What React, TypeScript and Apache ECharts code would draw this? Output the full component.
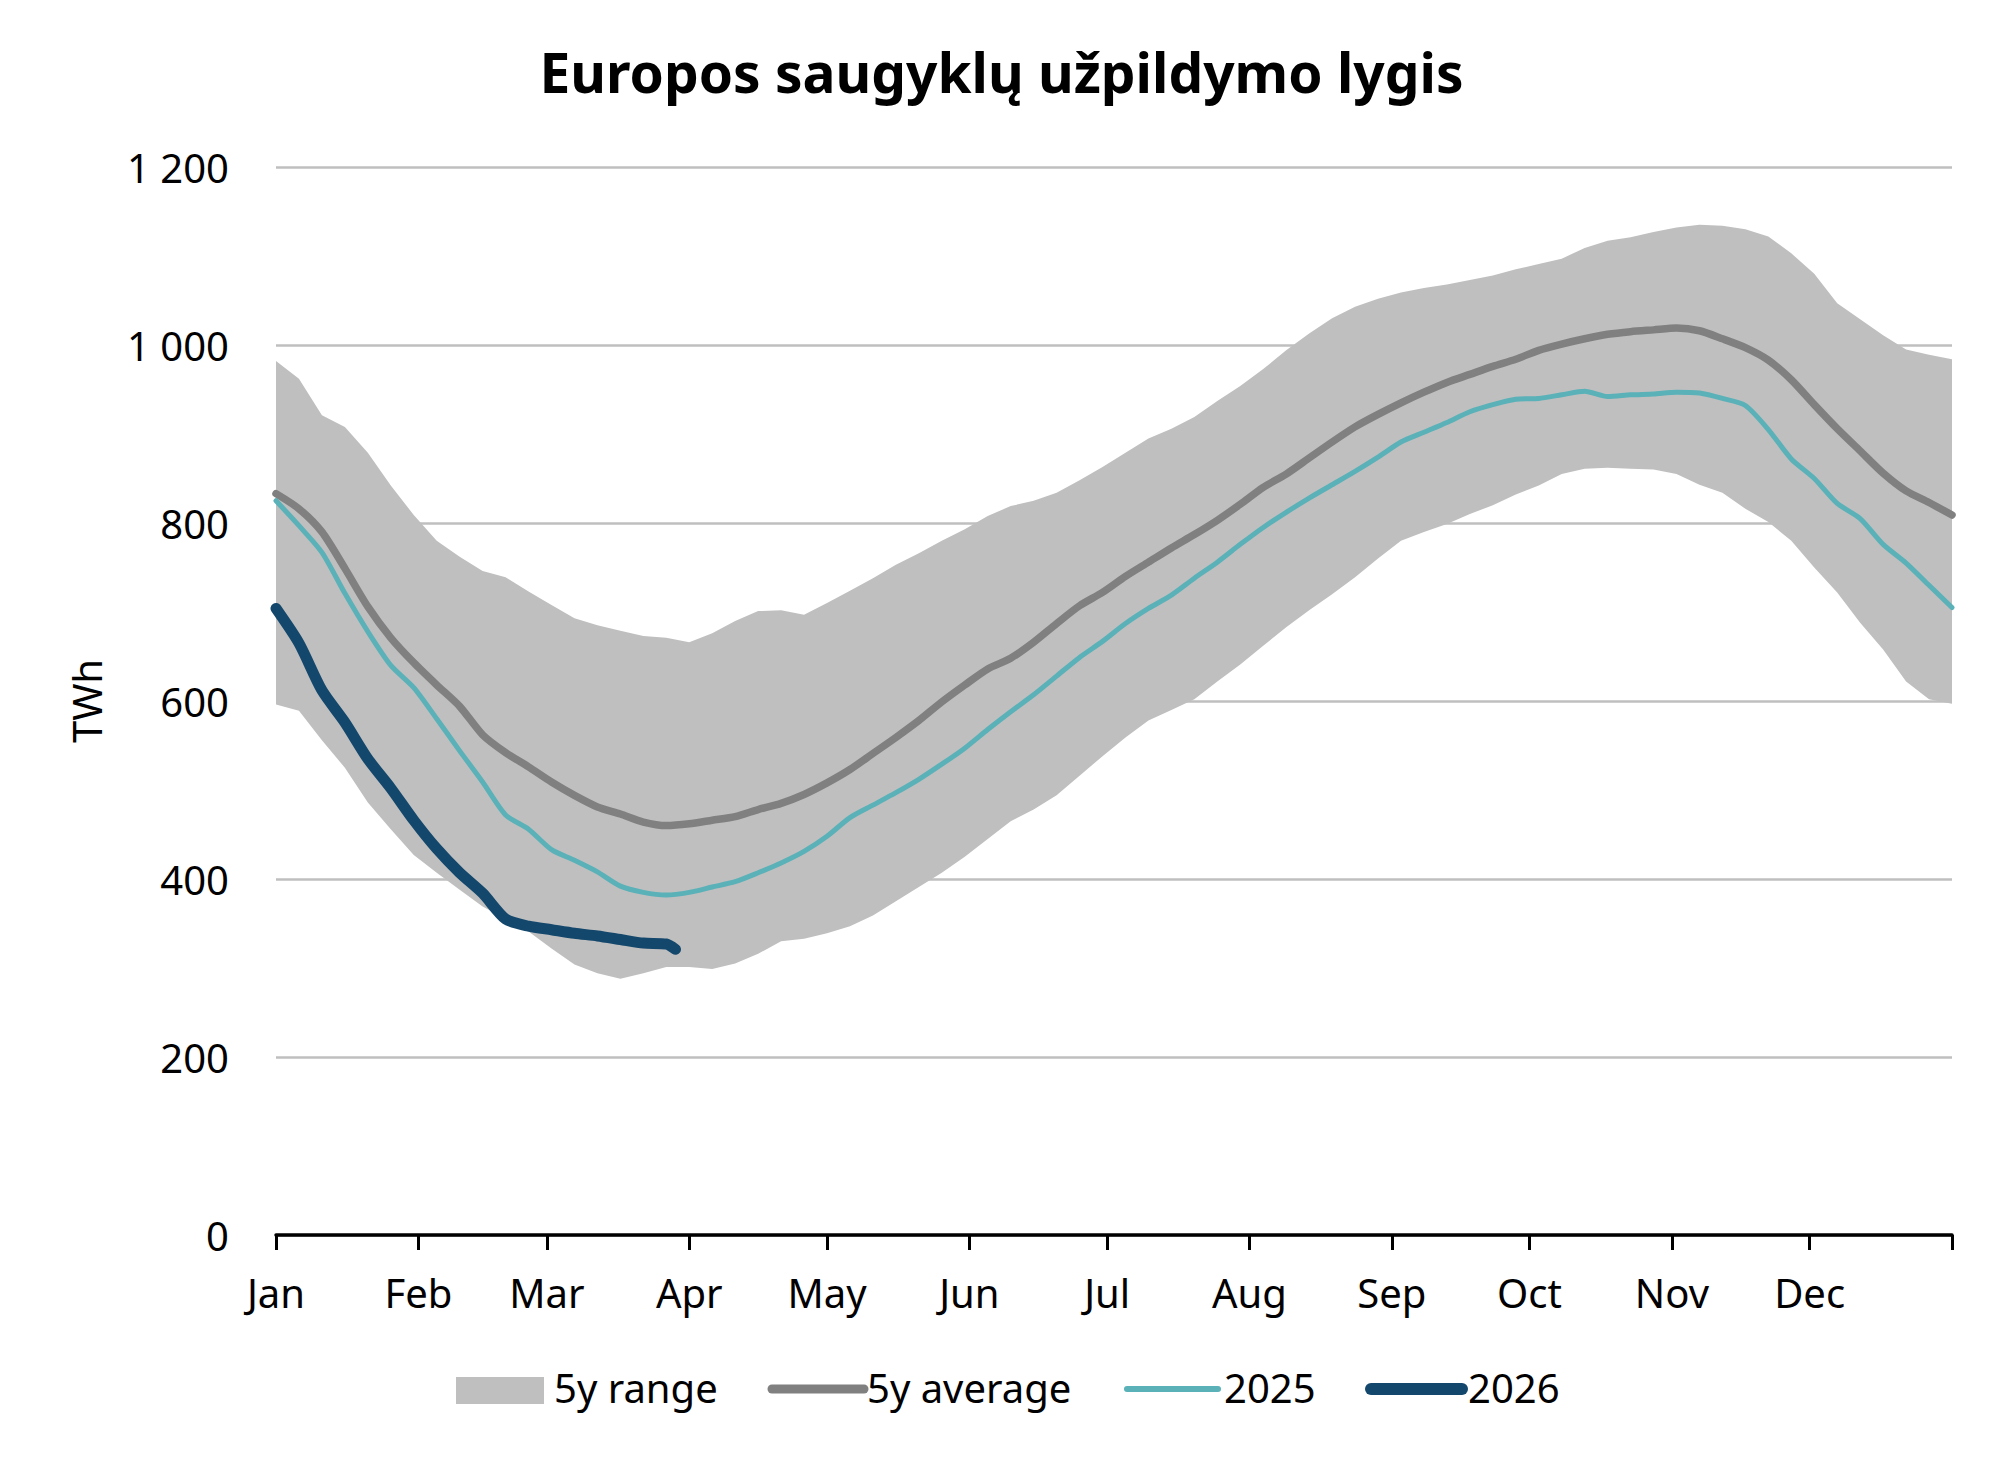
import React, { useEffect, useRef } from "react";
import * as echarts from "echarts";

const titleText = "Europos saugyklų užpildymo lygis";
const yAxisName = "TWh";
const monthLabels = ["Jan", "Feb", "Mar", "Apr", "May", "Jun", "Jul", "Aug", "Sep", "Oct", "Nov", "Dec"];
const monthStartDays = [0, 31, 59, 90, 120, 151, 181, 212, 243, 273, 304, 334];
const yearEndDay = 365;

const days = [
  0, 5, 10, 15, 20, 25, 30, 35, 40, 45, 50, 55, 60, 65, 70, 75, 80, 85, 90, 95,
  100, 105, 110, 115, 120, 125, 130, 135, 140, 145, 150, 155, 160, 165, 170, 175, 180, 185, 190, 195,
  200, 205, 210, 215, 220, 225, 230, 235, 240, 245, 250, 255, 260, 265, 270, 275, 280, 285, 290, 295,
  300, 305, 310, 315, 320, 325, 330, 335, 340, 345, 350, 355, 360, 365,
];

const rangeUpper = [
  982, 962, 921, 908, 879, 842, 809, 780, 762, 746, 739, 723, 708, 693, 685, 679, 673, 671, 666, 676,
  690, 701, 702, 697, 710, 724, 738, 753, 766, 780, 793, 808, 819, 825, 834, 848, 863, 879, 895, 906,
  919, 937, 954, 973, 994, 1013, 1030, 1043, 1052, 1059, 1064, 1068, 1073, 1078, 1085, 1091, 1097, 1109, 1117, 1121,
  1127, 1132, 1135, 1134, 1130, 1122, 1103, 1080, 1047, 1029, 1011, 995, 989, 984,
];

const rangeLower = [
  596, 589, 556, 525, 486, 456, 427, 407, 388, 369, 355, 341, 322, 304, 294, 288, 294, 301, 301, 299,
  305, 316, 330, 333, 339, 347, 359, 375, 391, 407, 425, 445, 465, 478, 494, 516, 538, 559, 578, 590,
  602, 622, 641, 662, 683, 702, 720, 739, 760, 780, 790, 799, 810, 820, 832, 842, 855, 861, 862, 861,
  860, 855, 843, 834, 816, 801, 780, 750, 722, 688, 658, 622, 602, 597,
];

const avg5y = [
  833, 816, 790, 749, 706, 671, 643, 618, 594, 562, 542, 526, 509, 494, 481, 473, 464, 460, 462, 466,
  470, 478, 485, 495, 508, 523, 541, 559, 578, 599, 618, 636, 648, 666, 687, 707, 722, 740, 756, 772,
  787, 803, 821, 840, 855, 873, 891, 908, 922, 935, 947, 958, 967, 976, 984, 994, 1001, 1007, 1012, 1015,
  1017, 1019, 1016, 1007, 997, 983, 961, 933, 906, 881, 856, 836, 823, 809,
];

const values2025 = [
  825, 797, 767, 721, 678, 640, 615, 580, 544, 509, 472, 456, 433, 421, 408, 392, 385, 382, 385, 391,
  397, 407, 418, 431, 448, 469, 483, 497, 512, 529, 547, 568, 588, 607, 628, 649, 667, 687, 704, 719,
  738, 756, 776, 795, 812, 828, 843, 858, 874, 891, 902, 913, 925, 933, 939, 940, 944, 948, 942, 944,
  945, 947, 946, 940, 932, 905, 872, 850, 822, 805, 776, 755, 730, 705,
];

const days2026 = [0, 5, 10, 15, 20, 25, 30, 35, 40, 45, 50, 55, 60, 65, 70, 75, 80, 85, 87];
const values2026 = [704, 665, 612, 576, 535, 502, 466, 434, 407, 384, 355, 347, 343, 339, 336, 332, 328, 327, 321];

const legendNames = ["5y range", "5y average", "2025", "2026"];

const COLOR_RANGE = "#BFBFBF";
const COLOR_AVG = "#808080";
const COLOR_2025 = "#5AB1B8";
const COLOR_2026 = "#14476C";
const FONT = "Noto Sans";

function fmtThousands(v: number): string {
  if (v >= 1000) {
    const th = Math.floor(v / 1000);
    const rest = String(v % 1000).padStart(3, "0");
    return th + " " + rest;
  }
  return String(v);
}

export default function App() {
  const ref = useRef<HTMLDivElement>(null);

  useEffect(() => {
    if (!ref.current) return;
    const chart = echarts.init(ref.current, null, { renderer: "svg" });

    const bandData = days.map((d, i) => [d, rangeLower[i], rangeUpper[i]]);
    const avgData = days.map((d, i) => [d, avg5y[i]]);
    const data2025 = days.map((d, i) => [d, values2025[i]]);
    const data2026 = days2026.map((d, i) => [d, values2026[i]]);

    const legendY = 1389;
    const legendText = (x: number, t: string) => ({
      type: "text",
      x,
      y: legendY - 2,
      style: {
        text: t,
        fontFamily: FONT,
        fontSize: 40,
        fill: "#000000",
        textVerticalAlign: "middle",
        textAlign: "left",
      },
    });

    chart.setOption({
      animation: false,
      backgroundColor: "#ffffff",
      title: {
        text: titleText,
        left: "center",
        top: 39,
        textStyle: {
          fontFamily: FONT,
          fontSize: 55,
          fontWeight: "bold",
          color: "#000000",
        },
      },
      grid: {
        left: 276,
        right: 51,
        top: 167,
        bottom: 227,
        containLabel: false,
        outerBoundsMode: "none",
      },
      xAxis: {
        type: "value",
        min: 0,
        max: yearEndDay,
        axisLine: { show: true, lineStyle: { color: "#000000", width: 3.5 } },
        axisTick: {
          show: true,
          length: 15,
          inside: false,
          lineStyle: { color: "#000000", width: 3 },
          customValues: [...monthStartDays, yearEndDay],
        },
        axisLabel: {
          show: true,
          customValues: monthStartDays,
          formatter: (v: number) => {
            const idx = monthStartDays.indexOf(Math.round(v));
            return idx >= 0 ? monthLabels[idx] : "";
          },
          margin: 37,
          fontFamily: FONT,
          fontSize: 40,
          color: "#000000",
        },
        splitLine: { show: false },
      },
      yAxis: {
        type: "value",
        min: 0,
        max: 1200,
        interval: 200,
        name: yAxisName,
        nameLocation: "middle",
        nameGap: 170,
        nameRotate: 90,
        nameTextStyle: { fontFamily: FONT, fontSize: 40, color: "#000000" },
        axisLine: { show: false },
        axisTick: { show: false },
        axisLabel: {
          margin: 47,
          fontFamily: FONT,
          fontSize: 40,
          color: "#000000",
          formatter: (v: number) => fmtThousands(v),
        },
        splitLine: { show: true, lineStyle: { color: COLOR_RANGE, width: 2.6 } },
      },
      series: [
        {
          name: legendNames[0],
          type: "custom",
          data: bandData,
          encode: { x: 0, y: [1, 2] },
          silent: true,
          z: 1,
          renderItem: (params: any, api: any) => {
            if (params.dataIndex !== 0) return null;
            const upperPts = bandData.map((row) => api.coord([row[0], row[2]]));
            const lowerPts = bandData.map((row) => api.coord([row[0], row[1]])).reverse();
            return {
              type: "polygon",
              shape: { points: upperPts.concat(lowerPts) },
              style: { fill: COLOR_RANGE, stroke: "none" },
            };
          },
        },
        {
          name: legendNames[1],
          type: "line",
          data: avgData,
          symbol: "none",
          smooth: 0.25,
          lineStyle: { color: COLOR_AVG, width: 7.5, cap: "round", join: "round" },
          z: 3,
        },
        {
          name: legendNames[2],
          type: "line",
          data: data2025,
          symbol: "none",
          smooth: 0.25,
          lineStyle: { color: COLOR_2025, width: 5, cap: "round", join: "round" },
          z: 4,
        },
        {
          name: legendNames[3],
          type: "line",
          data: data2026,
          symbol: "none",
          smooth: 0.25,
          lineStyle: { color: COLOR_2026, width: 11, cap: "round", join: "round" },
          z: 5,
        },
      ],
      graphic: [
        {
          type: "rect",
          shape: { x: 456, y: 1377, width: 88, height: 27 },
          style: { fill: COLOR_RANGE },
        },
        legendText(554, legendNames[0]),
        {
          type: "line",
          shape: { x1: 772, y1: legendY, x2: 864, y2: legendY },
          style: { stroke: COLOR_AVG, lineWidth: 9, lineCap: "round" },
        },
        legendText(867, legendNames[1]),
        {
          type: "line",
          shape: { x1: 1127, y1: legendY, x2: 1218, y2: legendY },
          style: { stroke: COLOR_2025, lineWidth: 6, lineCap: "round" },
        },
        legendText(1224, legendNames[2]),
        {
          type: "line",
          shape: { x1: 1371, y1: legendY, x2: 1462, y2: legendY },
          style: { stroke: COLOR_2026, lineWidth: 12, lineCap: "round" },
        },
        legendText(1468, legendNames[3]),
      ],
    });

    return () => {
      chart.dispose();
    };
  }, []);

  return (
    <div
      ref={ref}
      style={{ position: "absolute", left: 0, top: 0, width: 2003, height: 1462 }}
    />
  );
}
